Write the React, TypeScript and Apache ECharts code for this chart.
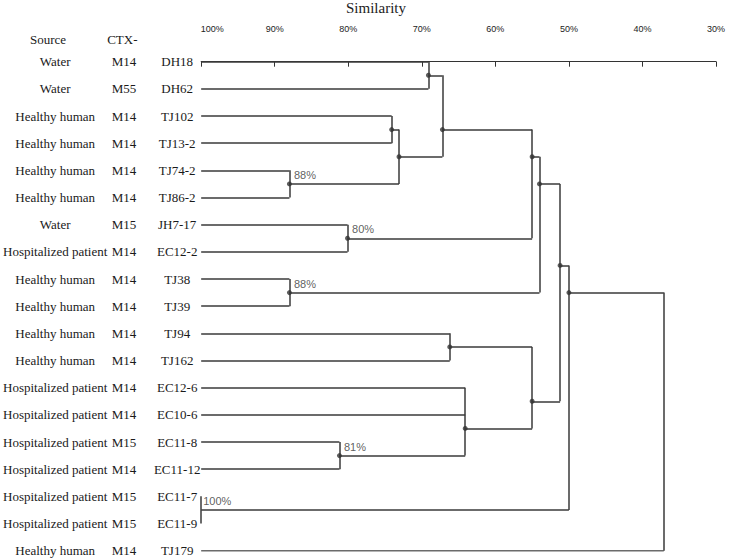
import React, { useEffect, useRef } from "react";
import * as echarts from "echarts";

// ---- data ----
const strains = ["DH18", "DH62", "TJ102", "TJ13-2", "TJ74-2", "TJ86-2", "JH7-17", "EC12-2", "TJ38", "TJ39", "TJ94", "TJ162", "EC12-6", "EC10-6", "EC11-8", "EC11-12", "EC11-7", "EC11-9", "TJ179"];
const sources = ["Water", "Water", "Healthy human", "Healthy human", "Healthy human", "Healthy human", "Water", "Hospitalized patient", "Healthy human", "Healthy human", "Healthy human", "Healthy human", "Hospitalized patient", "Hospitalized patient", "Hospitalized patient", "Hospitalized patient", "Hospitalized patient", "Hospitalized patient", "Healthy human"];
const ctxTypes = ["M14", "M55", "M14", "M14", "M14", "M14", "M15", "M14", "M14", "M14", "M14", "M14", "M14", "M14", "M15", "M14", "M15", "M15", "M14"];

const clusterNames = ["A", "B", "C", "D", "E", "F", "G", "H", "I", "J", "K", "L", "M", "N", "O", "P", "Q"];
const clusterChildren = [
  ["DH18", "DH62"],
  ["TJ102", "TJ13-2"],
  ["TJ74-2", "TJ86-2"],
  ["B", "C"],
  ["A", "D"],
  ["JH7-17", "EC12-2"],
  ["E", "F"],
  ["TJ38", "TJ39"],
  ["G", "H"],
  ["TJ94", "TJ162"],
  ["EC11-8", "EC11-12"],
  ["EC12-6", "EC10-6", "K"],
  ["J", "L"],
  ["I", "M"],
  ["EC11-7", "EC11-9"],
  ["N", "O"],
  ["P", "TJ179"],
];
const clusterSimilarity = [69.1, 74.1, 88.0, 73.1, 67.2, 80.1, 55.0, 88.0, 54.0, 66.2, 81.2, 64.1, 55.0, 51.2, 100, 50.0, 37.1];
const clusterLabels = ["", "", "88%", "", "", "80%", "", "88%", "", "", "81%", "", "", "", "100%", "", ""];
const clusterDots = [true, true, true, true, true, true, true, true, true, true, true, true, true, true, false, true, false];

const axisTicks = [100, 90, 80, 70, 60, 50, 40, 30];
const headerTexts = ["Source", "CTX-"];

// ---- build tree geometry ----
function buildTree() {
  const leafIndex: Record<string, number> = {};
  strains.forEach((s, i) => (leafIndex[s] = i));
  const clusterIndex: Record<string, number> = {};
  clusterNames.forEach((c, i) => (clusterIndex[c] = i));
  const memo: Record<string, { x: number; leaves: number[] }> = {};
  const info = (name: string): { x: number; leaves: number[] } => {
    if (memo[name]) return memo[name];
    let r;
    if (name in leafIndex) {
      r = { x: 100, leaves: [leafIndex[name]] };
    } else {
      const ci = clusterIndex[name];
      const leaves: number[] = [];
      clusterChildren[ci].forEach((c) => leaves.push(...info(c).leaves));
      r = { x: clusterSimilarity[ci], leaves };
    }
    memo[name] = r;
    return r;
  };
  const yOf = (name: string) => {
    const l = info(name).leaves;
    return l.reduce((a, b) => a + b, 0) / l.length;
  };
  const segments: any[] = [];
  const dots: any[] = [];
  clusterNames.forEach((c, ci) => {
    const sim = clusterSimilarity[ci];
    const ys = clusterChildren[ci].map(yOf);
    segments.push({ coords: [[sim, Math.min(...ys)], [sim, Math.max(...ys)]] });
    clusterChildren[ci].forEach((ch, k) => {
      const cx = info(ch).x;
      if (cx !== sim) segments.push({ coords: [[cx, ys[k]], [sim, ys[k]]] });
    });
    if (clusterDots[ci] || clusterLabels[ci]) {
      dots.push({
        name: clusterLabels[ci],
        value: [sim, yOf(c)],
        symbolSize: clusterDots[ci] ? 5 : 0,
      });
    }
  });
  return { segments, dots };
}

const SERIF = "Liberation Serif";
const SANS = "Liberation Sans";
const LINE = "#3a3a3a";
const TXT = "#1a1a1a";

export default function App() {
  const ref = useRef<HTMLDivElement>(null);
  useEffect(() => {
    if (!ref.current) return;
    const chart = echarts.init(ref.current, undefined, { renderer: "svg" });
    const { segments, dots } = buildTree();
    const serif13 = { fontFamily: SERIF, fontSize: 13, color: TXT };
    chart.setOption({
      animation: false,
      backgroundColor: "#ffffff",
      title: {
        text: "Similarity",
        left: 346,
        top: 0,
        padding: 0,
        textStyle: { fontFamily: SERIF, fontSize: 15, fontWeight: "normal", color: "#222" },
      },
      grid: { left: 198, right: 17, top: 61.7, bottom: 7.3 },
      xAxis: {
        type: "value",
        position: "top",
        inverse: true,
        min: 30,
        max: 100,
        interval: 10,
        offset: 12.3,
        axisLine: { show: true, lineStyle: { color: "#333", width: 1 } },
        axisTick: { show: true, inside: true, length: 5, lineStyle: { color: "#333" } },
        splitLine: { show: false },
        axisLabel: {
          margin: 16,
          fontFamily: SANS,
          fontSize: 9,
          color: "#222",
          formatter: (v: number) => (v === axisTicks[0] ? "{a|" + v + "%}" : v + "%"),
          rich: { a: { padding: [0, 0, 0, 22], fontFamily: SANS, fontSize: 9, color: "#222" } },
        },
      },
      yAxis: [
        { type: "value", min: 0, max: strains.length - 1, inverse: true, show: false },
        {
          type: "category",
          position: "left",
          data: strains,
          inverse: true,
          boundaryGap: false,
          axisLine: { show: false },
          axisTick: { show: false },
          splitLine: { show: false },
          axisLabel: {
            interval: 0,
            margin: 0,
            fontFamily: SERIF,
            fontSize: 13,
            color: TXT,
            formatter: (v: string, i: number) => `{src|${sources[i]}}{ctx|${ctxTypes[i]}}{id|${v}}`,
            rich: {
              src: { width: 104, align: "center", ...serif13 },
              ctx: { width: 33.5, align: "right", padding: [0, 12.5, 0, 0], ...serif13 },
              id: { width: 48, align: "center", ...serif13 },
            },
          },
        },
      ],
      graphic: [
        {
          type: "text",
          x: 48,
          y: 39.5,
          style: { text: headerTexts[0], fontFamily: SERIF, fontSize: 13, fill: TXT, align: "center", verticalAlign: "middle" },
        },
        {
          type: "text",
          x: 137.5,
          y: 39.5,
          style: { text: headerTexts[1], fontFamily: SERIF, fontSize: 13, fill: TXT, align: "right", verticalAlign: "middle" },
        },
      ],
      series: [
        {
          type: "lines",
          coordinateSystem: "cartesian2d",
          xAxisIndex: 0,
          yAxisIndex: 0,
          silent: true,
          lineStyle: { color: LINE, width: 1.5, opacity: 1 },
          data: segments,
        },
        {
          type: "scatter",
          xAxisIndex: 0,
          yAxisIndex: 0,
          silent: true,
          symbol: "circle",
          itemStyle: { color: "#333" },
          label: {
            show: true,
            position: "right",
            distance: 2,
            offset: [0, -9],
            formatter: (p: any) => p.name,
            fontFamily: SANS,
            fontSize: 11,
            color: "#333",
          },
          data: dots,
          z: 5,
        },
      ],
    });
    return () => chart.dispose();
  }, []);
  return <div ref={ref} style={{ position: "fixed", left: 0, top: 0, width: 733, height: 558, background: "#fff" }} />;
}
